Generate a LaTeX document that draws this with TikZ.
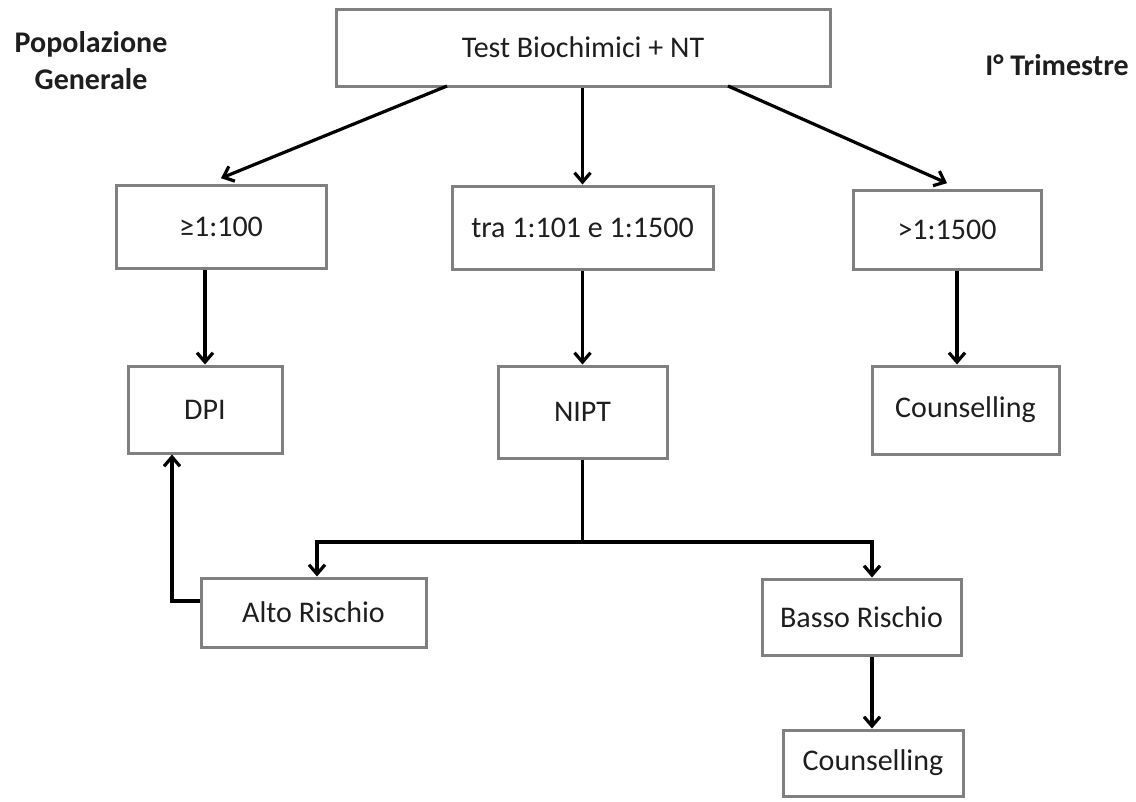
\documentclass[tikz,border=0pt]{standalone}
\usepackage{fontspec}
\setmainfont{Carlito}
\usetikzlibrary{arrows.meta}
\definecolor{boxgray}{RGB}{128,128,128}
\definecolor{textcol}{RGB}{30,30,30}
\begin{document}
\begin{tikzpicture}[x=0.75pt,y=-0.75pt,
  box/.style={draw=boxgray, line width=2.25pt, fill=white, inner sep=0pt,
    font=\fontsize{22.5}{27}\selectfont, text=textcol},
  conn/.style={line width=2.4pt, -{Straight Barb[length=7pt,width=12pt]}},
  plain/.style={line width=2.4pt},
  lab/.style={font=\fontsize{22.5}{27.75}\selectfont\bfseries, align=center, text=textcol}]
\useasboundingbox (0,0) rectangle (1136,801);
\fill[white] (0,0) rectangle (1136,801);

\node[box, minimum width=370.5pt, minimum height=57.75pt] (top) at (583,47.5) {Test Biochimici + NT};
\node[box, minimum width=157.5pt, minimum height=62.25pt] (b1) at (221,226.5) {≥1:100};
\node[box, minimum width=195.75pt, minimum height=62.25pt] (b2) at (582.5,227.5) {tra 1:101 e 1:1500};
\node[box, minimum width=141pt, minimum height=59.25pt] (b3) at (947,229.5) {>1:1500};
\node[box, minimum width=115.5pt, minimum height=65.25pt] (dpi) at (205,409.5) {DPI};
\node[box, minimum width=126.75pt, minimum height=69pt] (nipt) at (582.5,412) {NIPT};
\node[box, minimum width=140.25pt, minimum height=66pt] (c1) at (965.5,410) {Counselling};
\node[box, minimum width=168.75pt, minimum height=51.75pt] (alto) at (313.5,612.5) {Alto Rischio};
\node[box, minimum width=149.25pt, minimum height=57pt] (basso) at (861.5,617) {Basso Rischio};
\node[box, minimum width=135pt, minimum height=49.5pt] (c2) at (873,763) {Counselling};

\node[lab] (pop) at (91,61) {Popolazione\\Generale};
\node[lab] (trim) at (1057,65) {I° Trimestre};

\coordinate (tl) at (447,86);
\coordinate (tr) at (728,86);
\coordinate (j) at (582.5,542);
\coordinate (jl) at (317,542);
\coordinate (jr) at (872,542);
\coordinate (k) at (172,601);

\draw[conn] (tl) -- ([yshift=4pt]b1.north);
\draw[conn] (top.south -| b2.north) -- (b2.north);
\draw[conn] (tr) -- ([yshift=4pt]b3.north);

\draw[conn] (dpi.north |- b1.south) -- (dpi.north);
\draw[conn] (b2.south) -- (nipt.north);
\draw[conn] ([xshift=7.5pt]b3.south) -- ([xshift=7.5pt]b3.south |- c1.north);

\draw[plain] (nipt.south) -- (j);
\draw[conn] (j) -- (jl) -- (alto.north -| jl);
\draw[conn] (j) -- (jr) -- (basso.north -| jr);

\draw[conn] (alto.west |- k) -- (k) -- (dpi.south -| k);
\draw[conn] (basso.south -| jr) -- (c2.north -| jr);
\end{tikzpicture}
\end{document}
